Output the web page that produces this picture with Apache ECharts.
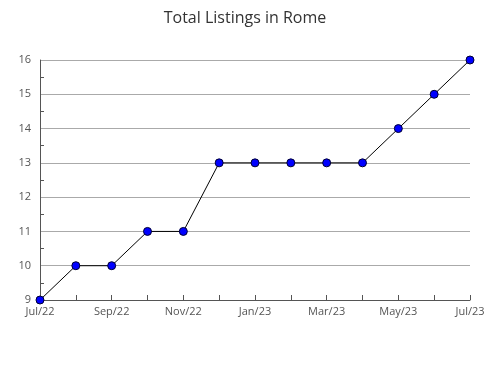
<!DOCTYPE html>
<html><head><meta charset="utf-8">
<script src="https://cdn.jsdelivr.net/npm/echarts@6/dist/echarts.min.js"></script>
<style>html,body{margin:0;padding:0;background:#fff}#c{width:490px;height:380px}</style>
</head><body><div id="c"></div>
<script>
const categories = ['Jul/22','Aug/22','Sep/22','Oct/22','Nov/22','Dec/22','Jan/23','Feb/23','Mar/23','Apr/23','May/23','Jun/23','Jul/23'];
const listings = [9,10,10,11,11,13,13,13,13,13,14,15,16];
const chart = echarts.init(document.getElementById('c'), null, {renderer:'canvas'});
const font = '"Open Sans", "Noto Sans", sans-serif';
chart.setOption({
  animation:false,
  backgroundColor:'#fff',
  title:{text:'Total Listings in Rome',left:'center',top:5,textStyle:{fontFamily:font,fontSize:16,fontWeight:'normal',color:'#333'}},
  grid:{left:40,right:20,top:60,bottom:80,containLabel:false},
  xAxis:{type:'category',data:categories,boundaryGap:false,
    axisLine:{lineStyle:{color:'#555',width:1}},
    axisTick:{show:true,inside:true,length:5,interval:0,lineStyle:{color:'#555'}},
    axisLabel:{interval:1,color:'#555',fontFamily:font,fontSize:11,margin:6},
    splitLine:{show:false}},
  yAxis:{type:'value',min:9,max:16,interval:1,
    axisLine:{show:true,lineStyle:{color:'#555',width:1}},
    axisTick:{show:false,inside:true},
    minorTick:{show:true,splitNumber:2,length:4,lineStyle:{color:'#555'}},
    axisLabel:{color:'#555',fontFamily:font,fontSize:11,margin:9},
    splitLine:{show:true,lineStyle:{color:'#aaa',width:1}}},
  series:[{type:'line',data:listings,symbol:'circle',symbolSize:8,
    lineStyle:{color:'#000',width:1},
    itemStyle:{color:'#0000ff',borderColor:'#000033',borderWidth:1}}]
});
</script></body></html>
